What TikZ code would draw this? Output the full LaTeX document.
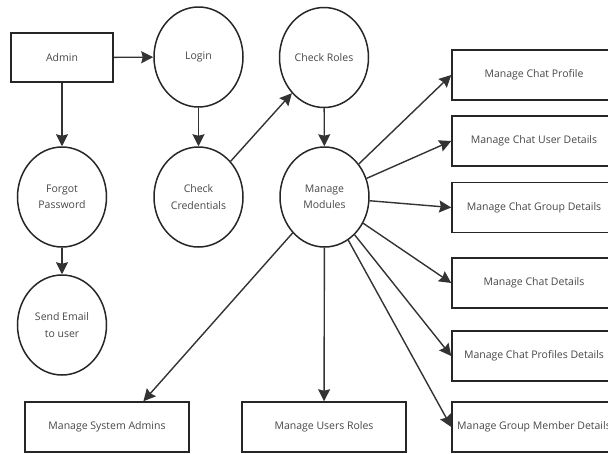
\documentclass[tikz,border=0pt]{standalone}
\usepackage{fontspec}
\setmainfont{Open Sans}
\usetikzlibrary{shapes.geometric,arrows.meta,calc}
\begin{document}
\begin{tikzpicture}[x=1pt,y=-1pt,
  every node/.style={font=\fontsize{10.5}{16.5}\selectfont, text=black!72},
  proc/.style={draw=black!85, line width=1.5pt, ellipse, minimum width=89pt, minimum height=100pt, inner sep=0pt, align=center},
  entity/.style={draw=black!85, line width=1.5pt, rectangle, minimum width=164pt, minimum height=50pt, inner sep=0pt, align=center},
  admbox/.style={draw=black!85, line width=1.5pt, rectangle, minimum width=102pt, minimum height=49pt, inner sep=0pt},
  flow/.style={draw=black!80, line width=1.4pt, -{Stealth[length=12pt,width=12pt,inset=1.5pt]}}]
\useasboundingbox (0,0) rectangle (608,453);
\clip (0,0) rectangle (608,453);

% external entity and processes
\node[admbox] (admin) at (62,57.5) {Admin};
\node[proc] (login) at (198.5,57) {Login};
\node[proc] (roles) at (324,57.5) {Check Roles};
\node[proc] (forgot) at (62,197) {Forgot\\Password};
\node[proc] (cred) at (198.5,197) {Check\\Credentials};
\node[proc] (mods) at (324.5,197) {Manage\\Modules};
\node[proc] (mail) at (62,325) {Send Email\\to user};

% managed data stores (the right-hand column runs past the page edge)
\node[entity] (chatprof) at (534,75) {Manage Chat Profile};
\node[entity] (chatuser) at (534,141) {Manage Chat User Details};
\node[entity] (chatgroup) at (534,207.5) {Manage Chat Group Details};
\node[entity] (chatdet) at (534,283) {Manage Chat Details};
\node[entity] (chatprofs) at (534,356) {Manage Chat Profiles Details};
\node[entity] (groupmem) at (534,427) {Manage Group Member Details};
\node[entity] (sysadm) at (107,427) {Manage System Admins};
\node[entity] (uroles) at (324,427) {Manage Users Roles};

\coordinate (sysadmin) at ($(sysadm.north west)!0.72!(sysadm.north east)$);

% data flows
\draw[flow] (admin) -- (login);
\draw[flow] (admin) -- (forgot);
\draw[flow] (forgot) -- (mail);
\draw[flow] (login) -- (cred);
\draw[flow] (cred) -- (roles);
\draw[flow] (roles) -- (mods);
\draw[flow] (mods) -- (chatprof.west);
\draw[flow] (mods) -- (chatuser.west);
\draw[flow] (mods) -- (chatgroup.west);
\draw[flow] (mods) -- (chatdet.west);
\draw[flow] (mods) -- (chatprofs.west);
\draw[flow] (mods) -- (groupmem.west);
\draw[flow] (mods) -- (uroles);
\draw[flow] (mods) -- (sysadmin);
\end{tikzpicture}
\end{document}
